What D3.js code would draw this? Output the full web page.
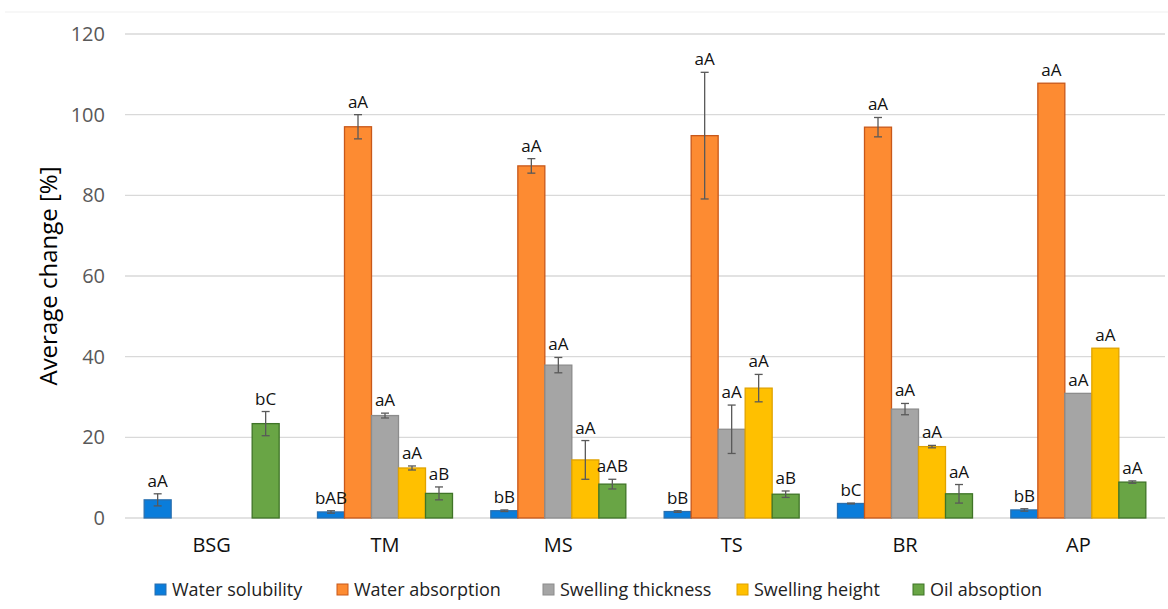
<!DOCTYPE html>
<html>
<head>
<meta charset="utf-8">
<script src="https://cdn.jsdelivr.net/npm/d3@7"></script>
<style>
  body { margin: 0; background: #fff; }
  text { font-family: "Open Sans", "DejaVu Sans", sans-serif; }
</style>
</head>
<body>
<div class="chart"></div>
<script>

// categories and series
var categories = ["BSG", "TM", "MS", "TS", "BR", "AP"];
var seriesNames = ["Water solubility", "Water absorption", "Swelling thickness", "Swelling height", "Oil absoption"];

// values (null = no bar), error = half range of the whisker
var waterSolubility = [4.5, 1.5, 1.8, 1.6, 3.6, 2.0];
var waterSolubilityErr = [1.5, 0.3, 0.2, 0.2, 0.1, 0.3];
var waterSolubilityTag = ["aA", "bAB", "bB", "bB", "bC", "bB"];

var waterAbsorption = [null, 97.0, 87.3, 94.8, 96.9, 107.8];
var waterAbsorptionErr = [null, 3.0, 1.8, 15.7, 2.4, null];
var waterAbsorptionTag = [null, "aA", "aA", "aA", "aA", "aA"];

var swellingThickness = [null, 25.4, 37.9, 22.0, 27.0, 30.9];
var swellingThicknessErr = [null, 0.6, 1.9, 6.0, 1.4, null];
var swellingThicknessTag = [null, "aA", "aA", "aA", "aA", "aA"];

var swellingHeight = [null, 12.4, 14.4, 32.2, 17.7, 42.1];
var swellingHeightErr = [null, 0.5, 4.8, 3.4, 0.3, null];
var swellingHeightTag = [null, "aA", "aA", "aA", "aA", "aA"];

var oilAbsorption = [23.4, 6.1, 8.4, 5.9, 6.0, 8.9];
var oilAbsorptionErr = [3.0, 1.6, 1.2, 0.8, 2.3, 0.3];
var oilAbsorptionTag = ["bC", "aB", "aAB", "aB", "aA", "aA"];

var yTicks = [0, 20, 40, 60, 80, 100, 120];

var fills = ["#0a7ddb", "#fd8b32", "#a5a5a5", "#ffc000", "#69a545"];
var strokes = ["#2a6fae", "#c8581a", "#8c8c8c", "#e0a200", "#3f7427"];

var svgWidth = 1168;
var svgHeight = 609;

var margin = { top: 34, right: 3, bottom: 91, left: 125 };
var width = svgWidth - margin.left - margin.right;
var height = svgHeight - margin.top - margin.bottom;

var svg = d3.select(".chart")
  .append("svg")
  .attr("width", svgWidth)
  .attr("height", svgHeight);

// faint frame line at the top
svg.append("line")
  .attr("x1", 5).attr("x2", svgWidth)
  .attr("y1", 12).attr("y2", 12)
  .attr("stroke", "#efefef")
  .attr("stroke-width", 1);

var chartGroup = svg.append("g")
  .attr("transform", `translate(${margin.left}, ${margin.top})`);

// build the rows from the arrays
var values = [waterSolubility, waterAbsorption, swellingThickness, swellingHeight, oilAbsorption];
var errors = [waterSolubilityErr, waterAbsorptionErr, swellingThicknessErr, swellingHeightErr, oilAbsorptionErr];
var tags = [waterSolubilityTag, waterAbsorptionTag, swellingThicknessTag, swellingHeightTag, oilAbsorptionTag];

var bars = [];
categories.forEach(function (cat, i) {
  seriesNames.forEach(function (s, j) {
    if (values[j][i] !== null) {
      bars.push({ cat: cat, series: s, idx: j, value: values[j][i], err: errors[j][i], tag: tags[j][i] });
    }
  });
});

// scales
var x0 = d3.scaleBand().domain(categories).range([0, width]);
var x1 = d3.scaleBand().domain(seriesNames).range([0, x0.bandwidth()]).paddingOuter(0.71);
var yLinearScale = d3.scaleLinear().domain([0, 120]).range([height, 0]);

// gridlines
chartGroup.append("g")
  .selectAll("line")
  .data(yTicks)
  .enter()
  .append("line")
  .attr("x1", 0)
  .attr("x2", width)
  .attr("y1", d => yLinearScale(d))
  .attr("y2", d => yLinearScale(d))
  .attr("stroke", "#d9d9d9")
  .attr("stroke-width", 1.3);

// y axis labels
var leftAxis = d3.axisLeft(yLinearScale).tickValues(yTicks).tickSize(0).tickPadding(20);
var yAxis = chartGroup.append("g").call(leftAxis);
yAxis.select(".domain").remove();
yAxis.selectAll("text")
  .attr("font-size", "20px")
  .attr("fill", "#595959")
  .attr("font-family", "'Open Sans', sans-serif");

// x axis labels
var bottomAxis = d3.axisBottom(x0).tickSize(0).tickPadding(20);
var xAxis = chartGroup.append("g")
  .attr("transform", `translate(0, ${height})`)
  .call(bottomAxis);
xAxis.select(".domain").remove();
xAxis.selectAll("text")
  .attr("font-size", "20px")
  .attr("fill", "#111")
  .attr("font-family", "'Open Sans', sans-serif");

// bars
chartGroup.selectAll(".bar")
  .data(bars)
  .enter()
  .append("rect")
  .classed("bar", true)
  .attr("x", d => x0(d.cat) + x1(d.series))
  .attr("y", d => yLinearScale(d.value))
  .attr("width", x1.bandwidth())
  .attr("height", d => height - yLinearScale(d.value))
  .attr("fill", d => fills[d.idx])
  .attr("stroke", d => strokes[d.idx])
  .attr("stroke-width", 1.3);

// error bars
var errGroup = chartGroup.selectAll(".err")
  .data(bars.filter(d => d.err))
  .enter()
  .append("g")
  .classed("err", true)
  .attr("stroke", "#595959")
  .attr("stroke-width", 1.3);

errGroup.append("line")
  .attr("x1", d => x0(d.cat) + x1(d.series) + x1.bandwidth() / 2)
  .attr("x2", d => x0(d.cat) + x1(d.series) + x1.bandwidth() / 2)
  .attr("y1", d => yLinearScale(d.value + d.err))
  .attr("y2", d => yLinearScale(d.value - d.err));

[1, -1].forEach(function (sign) {
  errGroup.append("line")
    .attr("x1", d => x0(d.cat) + x1(d.series) + x1.bandwidth() / 2 - 4)
    .attr("x2", d => x0(d.cat) + x1(d.series) + x1.bandwidth() / 2 + 4)
    .attr("y1", d => yLinearScale(d.value + sign * d.err))
    .attr("y2", d => yLinearScale(d.value + sign * d.err));
});

// letter tags above bars
chartGroup.selectAll(".tag")
  .data(bars)
  .enter()
  .append("text")
  .classed("tag", true)
  .attr("x", d => x0(d.cat) + x1(d.series) + x1.bandwidth() / 2)
  .attr("y", d => yLinearScale(d.value + (d.err || 0)) - 7)
  .attr("text-anchor", "middle")
  .attr("font-size", "17px")
  .attr("fill", "#111")
  .text(d => d.tag);

// y axis title
chartGroup.append("text")
  .attr("transform", "rotate(-90)")
  .attr("x", -height / 2)
  .attr("y", -margin.left + 57)
  .attr("text-anchor", "middle")
  .attr("font-size", "24px")
  .attr("fill", "#000")
  .text("Average change [%]");

// legend
var legendX = [155, 337, 543, 737, 913];
var legend = svg.append("g")
  .selectAll("g")
  .data(seriesNames)
  .enter()
  .append("g")
  .attr("transform", (d, i) => `translate(${legendX[i]}, 590)`);

legend.append("rect")
  .attr("x", 0)
  .attr("y", -6)
  .attr("width", 11)
  .attr("height", 11)
  .attr("fill", (d, i) => fills[i])
  .attr("stroke", (d, i) => strokes[i])
  .attr("stroke-width", 1);

legend.append("text")
  .attr("x", 17)
  .attr("y", 6)
  .attr("font-size", "18px")
  .attr("fill", "#222")
  .text(d => d);

</script>
</body>
</html>
